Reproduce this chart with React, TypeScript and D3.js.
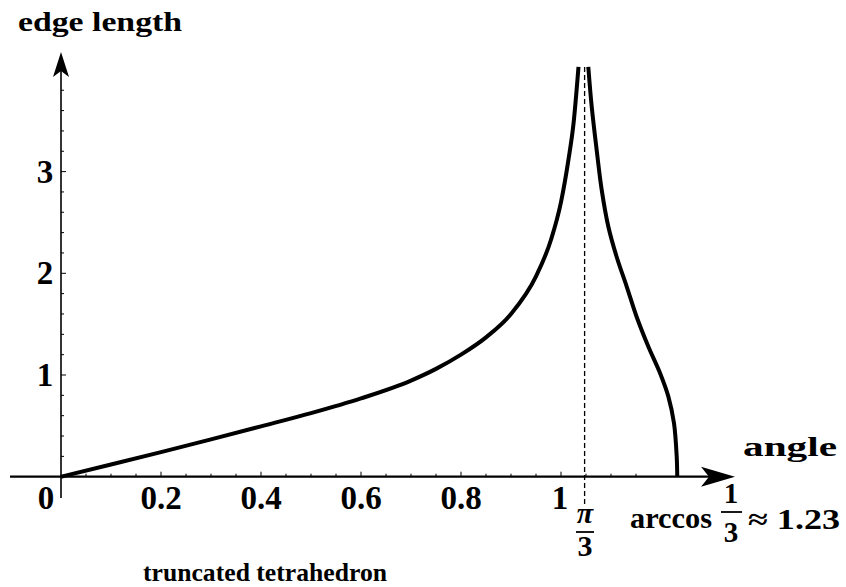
import React from 'react';
import * as d3 from 'd3';

// curve: left branch (rises to pi/3) and right branch (falls to arccos 1/3)
const leftAngle = [0, 0.1, 0.2, 0.3, 0.4, 0.5, 0.6, 0.7, 0.75, 0.8, 0.85, 0.9, 0.95, 0.98, 1.0, 1.015, 1.025, 1.035];
const leftLength = [0, 0.12, 0.242, 0.367, 0.495, 0.625, 0.77, 0.945, 1.06, 1.2, 1.37, 1.6, 1.97, 2.33, 2.7, 3.12, 3.47, 4.03];
const rightAngle = [1.0546, 1.0614, 1.0714, 1.0814, 1.0946, 1.1114, 1.1314, 1.1514, 1.1746, 1.198, 1.2146, 1.226, 1.2314, 1.2325];
const rightLength = [4.03, 3.64, 3.21, 2.82, 2.46, 2.16, 1.87, 1.57, 1.28, 1.02, 0.79, 0.525, 0.197, 0];

const xTickLabels = ['0.2', '0.4', '0.6', '0.8', '1'];
const xTickValues = [0.2, 0.4, 0.6, 0.8, 1];
const yTickLabels = ['1', '2', '3'];
const yTickValues = [1, 2, 3];
const piThird = Math.PI / 3;

const FONT = 'Liberation Serif, Times New Roman, serif';

const App = () => {
    const width = 846;
    const height = 587;

    const x = d3.scaleLinear().domain([0, 1]).range([61, 561]);
    const y = d3.scaleLinear().domain([0, 1]).range([476.7, 375]);

    const leftLine = d3.line<[number, number]>()
        .x(d => x(d[0]))
        .y(d => y(d[1]))
        .curve(d3.curveMonotoneX);

    const rightLine = d3.line<[number, number]>()
        .x(d => x(d[0]))
        .y(d => y(d[1]))
        .curve(d3.curveCatmullRom.alpha(0.5));

    const left = leftAngle.map((a, i) => [a, leftLength[i]] as [number, number]);
    const right = rightAngle.map((a, i) => [a, rightLength[i]] as [number, number]);

    const x0 = x(0);
    const y0 = y(0);

    // minor ticks
    const xMinor = d3.range(1, 24).map(i => i * 0.05);
    const yMinor = d3.range(1, 20).map(i => i * 0.2);

    const xTip = 735;
    const yTip = 52;

    return (
        <svg width={width} height={height} style={{ position: 'absolute', left: 0, top: 0, background: 'white' }}>
            {/* axes */}
            <line x1={10} y1={y0} x2={xTip - 10} y2={y0} stroke="black" strokeWidth={2.2} />
            <line x1={x0} y1={498} x2={x0} y2={yTip + 10} stroke="black" strokeWidth={1.6} />
            <path d={`M${xTip},${y0} L${xTip - 34},${y0 - 10} L${xTip - 26},${y0} L${xTip - 34},${y0 + 10} Z`} fill="black" />
            <path d={`M${x0},${yTip} L${x0 - 8},${yTip + 25} L${x0},${yTip + 19} L${x0 + 8},${yTip + 25} Z`} fill="black" />

            {xMinor.map((v, i) => {
                const major = Math.abs(v * 5 - Math.round(v * 5)) < 1e-6;
                return <line key={'xm' + i} x1={x(v)} x2={x(v)} y1={y0} y2={y0 - (major ? 5 : 3)} stroke="black" strokeWidth={1} />;
            })}
            {yMinor.map((v, i) => {
                const major = Math.abs(v - Math.round(v)) < 1e-6;
                return <line key={'ym' + i} x1={x0} x2={x0 + (major ? 5 : 3)} y1={y(v)} y2={y(v)} stroke="black" strokeWidth={1} />;
            })}

            {/* pi/3 dashed */}
            <line x1={x(piThird)} x2={x(piThird)} y1={67} y2={507} stroke="black" strokeWidth={1.3} strokeDasharray="5,3" />

            {/* curve */}
            <path d={leftLine(left) || ''} fill="none" stroke="black" strokeWidth={4} />
            <path d={rightLine(right) || ''} fill="none" stroke="black" strokeWidth={4} />

            {/* tick labels */}
            <g fontFamily={FONT} fontWeight="bold" fontSize={33}>
                {xTickValues.map((v, i) => (
                    <text key={'xl' + i} x={x(v) - (v === 1 ? 1 : 0)} y={509} textAnchor="middle">{xTickLabels[i]}</text>
                ))}
                <text x={46} y={509} textAnchor="middle">0</text>
                {yTickValues.map((v, i) => (
                    <text key={'yl' + i} x={45} y={y(v) + 11} textAnchor="middle">{yTickLabels[i]}</text>
                ))}
            </g>

            {/* pi/3 fraction */}
            <g fontFamily={FONT} fontWeight="bold" fontSize={30}>
                <text x={585} y={523} textAnchor="middle" fontStyle="italic">π</text>
                <line x1={576} x2={594} y1={532} y2={532} stroke="black" strokeWidth={1.8} />
                <text x={585} y={556} textAnchor="middle">3</text>
            </g>

            {/* arccos 1/3 */}
            <g fontFamily={FONT} fontWeight="bold" fontSize={29}>
                <text x={630} y={528} textLength={82} lengthAdjust="spacingAndGlyphs">arccos</text>
                <text x={731} y={503} textAnchor="middle">1</text>
                <line x1={721} x2={742} y1={512} y2={512} stroke="black" strokeWidth={1.8} />
                <text x={731} y={542} textAnchor="middle">3</text>
                <text x={748} y={529} textLength={92} lengthAdjust="spacingAndGlyphs">≈ 1.23</text>
            </g>

            {/* axis titles */}
            <g fontFamily={FONT} fontWeight="bold">
                <text x={18} y={31} fontSize={28} textLength={164} lengthAdjust="spacingAndGlyphs">edge length</text>
                <text x={743} y={456} fontSize={27} textLength={94} lengthAdjust="spacingAndGlyphs">angle</text>
                <text x={143} y={581} fontSize={25} textLength={244} lengthAdjust="spacingAndGlyphs">truncated tetrahedron</text>
            </g>
        </svg>
    );
};

export default App;
